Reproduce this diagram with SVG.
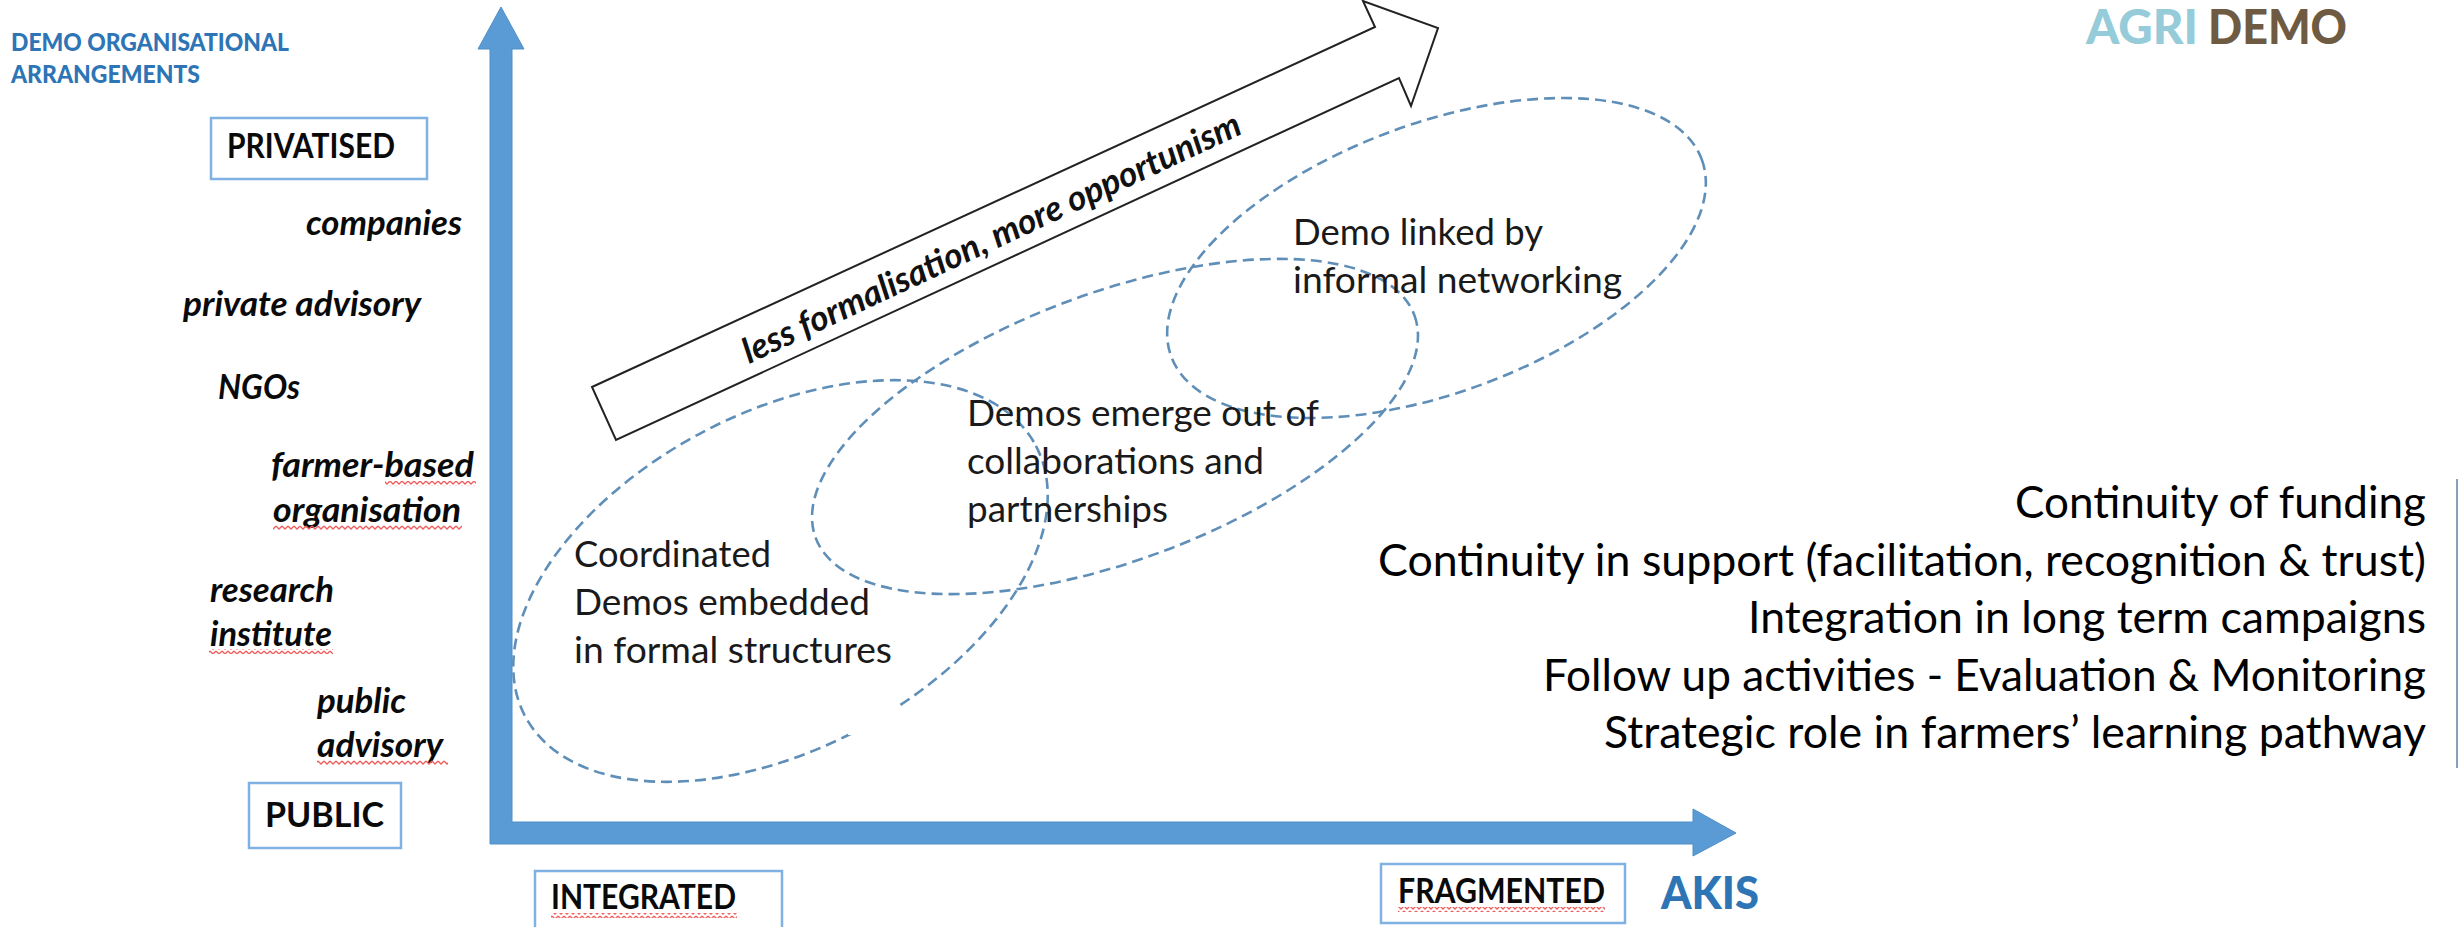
<svg xmlns="http://www.w3.org/2000/svg" width="2458" height="927" viewBox="0 0 2458 927">
<style>
text{font-family:Lato,"Liberation Sans",sans-serif;fill:#000}
.h{font-size:24px;font-weight:900;fill:#2e75b6}
.b{font-size:34px;font-weight:700;fill:#0a0a0a}
.i{font-size:34px;font-weight:700;font-style:italic;fill:#0a0a0a}
.t{font-size:37px;fill:#1a1a1a}
.r{font-size:44px;fill:#000}
.box{fill:#fff;stroke:#7fb2e3;stroke-width:2.5}
.ell{fill:none;stroke:#5f8fb8;stroke-width:2.6;stroke-dasharray:11 6}
.sq{fill:url(#squig)}
</style>
<defs>
<pattern id="squig" width="6" height="5" patternUnits="userSpaceOnUse">
<path d="M0 1 L3 4 L6 1" fill="none" stroke="#ef5f5f" stroke-width="1.3"/>
</pattern>
</defs>
<rect width="2458" height="927" fill="#fff"/>
<g id="connectors">
<path id="axes" fill="#5b9bd5" stroke="#4f8fc7" stroke-width="1" d="M501 7 L524 49 L512 49 L512 822 L1693 822 L1693 809 L1736 833 L1693 856 L1693 844 L490 844 L490 49 L478 49 Z"/>
<path id="trend-arrow" fill="#fff" stroke="#222" stroke-width="2" stroke-linejoin="miter" d="M592 387 L1375 27 L1363 1 L1438 28 L1411 106 L1399 78 L616 440 Z"/>
<ellipse class="ell" cx="1436.5" cy="258" rx="283" ry="134.4" transform="rotate(-20.4 1436.5 258)"/>
<ellipse class="ell" cx="1115" cy="426.5" rx="319.4" ry="133.7" transform="rotate(-20.4 1115 426.5)"/>
<ellipse class="ell" cx="780.5" cy="581" rx="289" ry="168" transform="rotate(-27.9 780.5 581)"/>
<rect x="848" y="697" width="48" height="38" fill="#fff"/>
</g>
<g id="axis-y-title">
<text class="h" x="11" y="51" textLength="278" lengthAdjust="spacingAndGlyphs">DEMO ORGANISATIONAL</text>
<text class="h" x="11" y="83" textLength="189" lengthAdjust="spacingAndGlyphs">ARRANGEMENTS</text>
</g>
<g id="privatised"><rect class="box" x="211" y="118" width="216" height="61"/>
<text class="b" x="227" y="158" textLength="168" lengthAdjust="spacingAndGlyphs">PRIVATISED</text></g>
<g id="public"><rect class="box" x="249" y="783" width="152" height="65"/>
<text class="b" x="265" y="827" textLength="119" lengthAdjust="spacingAndGlyphs">PUBLIC</text></g>
<g id="integrated"><rect class="box" x="535" y="871" width="247" height="70"/>
<text class="b" x="551" y="909" textLength="185" lengthAdjust="spacingAndGlyphs">INTEGRATED</text>
<rect class="sq" x="551" y="913" width="186" height="5"/></g>
<g id="fragmented"><rect class="box" x="1381" y="864" width="244" height="59"/>
<text class="b" x="1398" y="903" textLength="207" lengthAdjust="spacingAndGlyphs">FRAGMENTED</text>
<rect class="sq" x="1398" y="907" width="207" height="5"/></g>
<g id="akis"><text x="1661" y="909" font-size="45" font-weight="900" style="fill:#2e75b6" textLength="98" lengthAdjust="spacingAndGlyphs">AKIS</text></g>
<g id="actors">
<text class="i" x="306" y="235" textLength="156" lengthAdjust="spacingAndGlyphs">companies</text>
<text class="i" x="183" y="316" textLength="238" lengthAdjust="spacingAndGlyphs">private advisory</text>
<text class="i" x="218" y="399" textLength="82" lengthAdjust="spacingAndGlyphs">NGOs</text>
<text class="i" x="271" y="477" textLength="203" lengthAdjust="spacingAndGlyphs">farmer-based</text>
<rect class="sq" x="385" y="481" width="91" height="5"/>
<text class="i" x="273" y="522" textLength="188" lengthAdjust="spacingAndGlyphs">organisation</text>
<rect class="sq" x="273" y="525" width="189" height="5"/>
<text class="i" x="210" y="602" textLength="124" lengthAdjust="spacingAndGlyphs">research</text>
<text class="i" x="210" y="646" textLength="122" lengthAdjust="spacingAndGlyphs">institute</text>
<rect class="sq" x="209" y="649" width="124" height="5"/>
<text class="i" x="317" y="713" textLength="89" lengthAdjust="spacingAndGlyphs">public</text>
<text class="i" x="317" y="757" textLength="126" lengthAdjust="spacingAndGlyphs">advisory</text>
<rect class="sq" x="317" y="760" width="131" height="5"/>
</g>
<g id="trend-label">
<text transform="translate(749 364) rotate(-25)" font-size="35" font-weight="700" font-style="italic" style="fill:#111" textLength="546" lengthAdjust="spacingAndGlyphs">less formalisation, more opportunism</text>
</g>
<g id="demo-linked">
<text class="t" x="1293" y="245" textLength="250" lengthAdjust="spacingAndGlyphs">Demo linked by</text>
<text class="t" x="1293" y="293" textLength="329" lengthAdjust="spacingAndGlyphs">informal networking</text>
</g>
<g id="demos-emerge">
<text class="t" x="967" y="426" textLength="352" lengthAdjust="spacingAndGlyphs">Demos emerge out of</text>
<text class="t" x="967" y="474" textLength="297" lengthAdjust="spacingAndGlyphs">collaborations and</text>
<text class="t" x="967" y="522" textLength="201" lengthAdjust="spacingAndGlyphs">partnerships</text>
</g>
<g id="coordinated">
<text class="t" x="574" y="567" textLength="197" lengthAdjust="spacingAndGlyphs">Coordinated</text>
<text class="t" x="574" y="615" textLength="296" lengthAdjust="spacingAndGlyphs">Demos embedded</text>
<text class="t" x="574" y="663" textLength="318" lengthAdjust="spacingAndGlyphs">in formal structures</text>
</g>
<g id="conditions">
<text class="r" x="2015" y="518" textLength="411" lengthAdjust="spacingAndGlyphs">Continuity of funding</text>
<text class="r" x="1378" y="576" textLength="1048" lengthAdjust="spacingAndGlyphs">Continuity in support (facilitation, recognition &amp; trust)</text>
<text class="r" x="1748" y="633" textLength="678" lengthAdjust="spacingAndGlyphs">Integration in long term campaigns</text>
<text class="r" x="1543" y="691" textLength="883" lengthAdjust="spacingAndGlyphs">Follow up activities - Evaluation &amp; Monitoring</text>
<text class="r" x="1604" y="748" textLength="822" lengthAdjust="spacingAndGlyphs">Strategic role in farmers’ learning pathway</text>
<rect x="2456" y="479" width="2" height="289" fill="#8aa0b8"/>
</g>
<g id="logo">
<text x="2086" y="44" font-size="47" font-weight="900" style="fill:#96cbd9" textLength="112" lengthAdjust="spacingAndGlyphs">AGRI</text>
<text x="2208" y="44" font-size="47" font-weight="900" style="fill:#6f5a42" textLength="139" lengthAdjust="spacingAndGlyphs">DEMO</text>
</g>
</svg>
